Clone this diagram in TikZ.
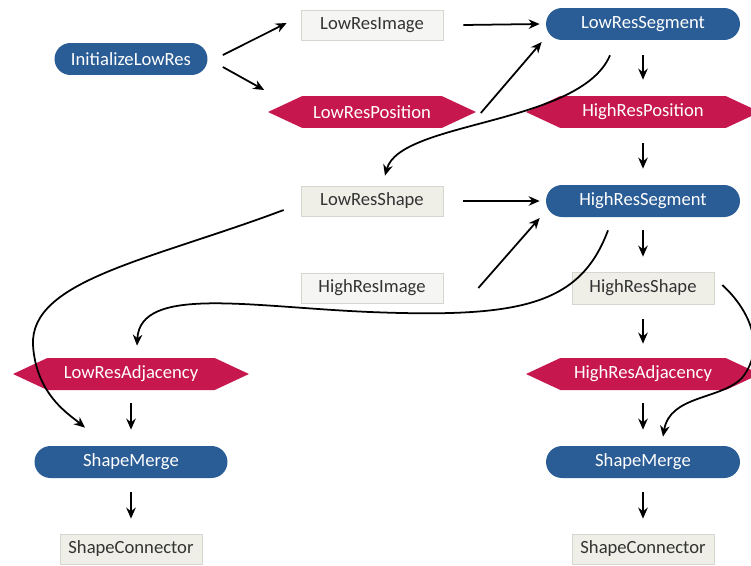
\documentclass[tikz,border=0pt]{standalone}
\usepackage{fontspec}
\setmainfont{Carlito}
\usepackage{tikz}
\usetikzlibrary{arrows.meta,calc,shapes.symbols}
\definecolor{procblue}{HTML}{2A5C96}
\definecolor{prmred}{HTML}{C7174F}
\definecolor{datgray}{HTML}{F5F5F4}
\definecolor{datbeige}{HTML}{EFEFE8}
\definecolor{datline}{HTML}{D6D6D0}
\definecolor{txtgray}{HTML}{333333}
\tikzset{
  proc/.style={rectangle, rounded corners=0.32cm, fill=procblue, text=white,
    minimum width=3.88cm, minimum height=0.64cm, inner sep=0pt, font=\fontsize{10.6}{12}\selectfont},
  dat/.style={rectangle, fill=datgray, draw=datline, text=txtgray,
    minimum width=2.84cm, minimum height=0.6cm, inner sep=0pt, font=\fontsize{10.6}{12}\selectfont},
  datb/.style={dat, fill=datbeige},
  prm/.style={signal, signal to=east and west, signal pointer angle=50, fill=prmred, text=white,
    minimum width=4.68cm, minimum height=0.64cm, inner sep=0pt, font=\fontsize{10.6}{12}\selectfont},
  flw/.style={-{Stealth[length=2.2mm,width=1.9mm]}, line width=1pt, black},
}

\begin{document}
\begin{tikzpicture}[x=0.02cm,y=-0.02cm]
  \useasboundingbox (0,0) rectangle (751,565);
  \clip (0,0) rectangle (751,565);
  % --- top rows ---
  \node[proc, minimum width=3.06cm] (init) at (131,59) {InitializeLowRes};
  \node[dat] (lrimg) at (372,25) {LowResImage};
  \node[proc] (lrseg) at (643,24) {LowResSegment};
  \node[prm, minimum width=4.16cm] (lrpos) at (372,112) {LowResPosition};
  \node[prm] (hrpos) at (643,112) {HighResPosition};
  \node[datb] (lrshape) at (372,201) {LowResShape};
  \node[proc] (hrseg) at (643,201) {HighResSegment};
  \node[dat] (hrimg) at (372,288) {HighResImage};
  \node[datb, minimum height=0.64cm] (hrshape) at (643,288) {HighResShape};
  % --- merge columns ---
  \node[prm, minimum width=4.72cm] (lradj) at (131,374) {LowResAdjacency};
  \node[prm] (hradj) at (643,374) {HighResAdjacency};
  \node[proc, minimum width=3.86cm] (lmerge) at (131,462) {ShapeMerge};
  \node[proc] (rmerge) at (643,462) {ShapeMerge};
  \node[datb] (lconn) at (131,549) {ShapeConnector};
  \node[datb] (rconn) at (643,549) {ShapeConnector};
  % --- straight flows ---
  \draw[flw] ($(init.east)+(15,-4)$) -- ($(lrimg.west)+(-14,-2)$);
  \draw[flw] ($(init.east)+(15,8)$) -- ($(lrpos.west)+(-3,-22)$);
  \draw[flw] ($(lrimg.east)+(20,0)$) -- ($(lrseg.west)+(-6,0)$);
  \draw[flw] ($(lrpos.east)+(4,1)$) -- ($(lrseg.west)+(-4,18)$);
  \draw[flw] ($(lrseg.south)+(0,15)$) -- ($(hrpos.north)+(0,-16)$);
  \draw[flw] ($(hrpos.south)+(0,15)$) -- ($(hrseg.north)+(0,-16)$);
  \draw[flw] ($(lrshape.east)+(20,0)$) -- ($(hrseg.west)+(-6,0)$);
  \draw[flw] ($(hrimg.east)+(35,0)$) -- ($(hrseg.west)+(-6,17)$);
  \draw[flw] ($(hrseg.south)+(0,13)$) -- ($(hrshape.north)+(0,-15)$);
  \draw[flw] ($(hrshape.south)+(0,15)$) -- ($(hradj.north)+(0,-14)$);
  \draw[flw] ($(lradj.south)+(0,13)$) -- ($(lmerge.north)+(0,-16)$);
  \draw[flw] ($(hradj.south)+(0,13)$) -- ($(rmerge.north)+(0,-16)$);
  \draw[flw] ($(lmerge.south)+(0,14)$) -- ($(lconn.north)+(0,-15)$);
  \draw[flw] ($(rmerge.south)+(0,14)$) -- ($(rconn.north)+(0,-15)$);
  % --- curved flows ---
  \draw[flw] ($(lrseg.south)+(-33,15)$) .. controls +(-30,70) and +(15,-55) .. ($(lrshape.north)+(13,-10)$);
  \draw[flw] ($(hrseg.south)+(-35,13)$) .. controls +(-28,75) and (520,318) .. (370,312)
    .. controls (250,307) and (140,285) .. ($(lradj.north)+(6,-12)$);
  \draw[flw] ($(lrshape.west)+(-17,9)$) .. controls +(-133,50) and (30,280) .. (33,345)
    .. controls (36,395) and (70,415) .. ($(lmerge.north)+(-46,-18)$);
  \draw[flw] ($(hrshape.east)+(8,-3)$) .. controls +(24,22) and (768,345) .. (742,378)
    .. controls (720,400) and (670,395) .. ($(rmerge.north)+(20,-9)$);
\end{tikzpicture}
\end{document}
